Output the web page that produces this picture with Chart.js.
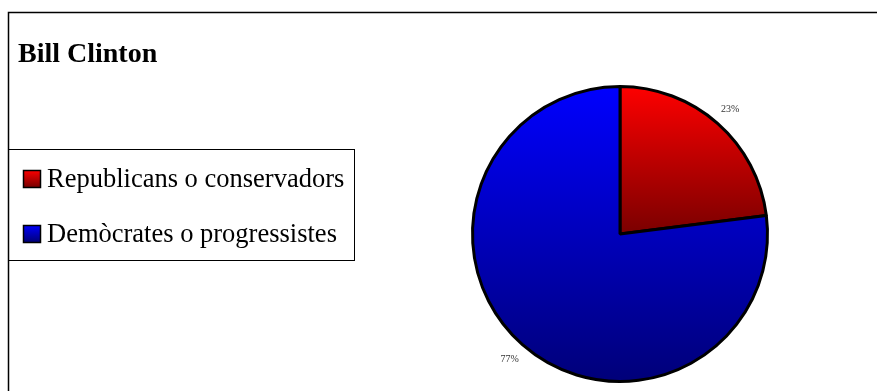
<!DOCTYPE html>
<html>
<head>
<meta charset="utf-8">
<script src="https://cdn.jsdelivr.net/npm/chart.js@4/dist/chart.umd.min.js"></script>
<style>
  html, body { margin: 0; padding: 0; background: #fff; }
  #chart { display: block; }
</style>
</head>
<body>
<canvas id="chart" width="877" height="391"></canvas>
<script>
const chartTitle = "Bill Clinton";
const categories = ["Republicans o conservadors", "Demòcrates o progressistes"];
const shares = [23, 77];

const topColors = ["#ff0000", "#0000ff"];
const bottomColors = ["#7a0000", "#000078"];
const SERIF = "'Liberation Serif', 'Times New Roman', serif";

// lowest / highest y reached by a slice, used to stretch its gradient
function sliceExtent(cy, r, start, end) {
  let ys = [cy, cy + r * Math.sin(start), cy + r * Math.sin(end)];
  for (let k = -2; k <= 2; k++) {
    const a = Math.PI / 2 + k * 2 * Math.PI;
    const b = -Math.PI / 2 + k * 2 * Math.PI;
    if (a > start && a < end) ys.push(cy + r);
    if (b > start && b < end) ys.push(cy - r);
  }
  return [Math.min(...ys), Math.max(...ys)];
}

function sliceFill(c) {
  const chart = c.chart;
  const area = chart.chartArea;
  const i = c.dataIndex;
  if (!area) return topColors[i];
  const cx = (area.left + area.right) / 2;
  const cy = (area.top + area.bottom) / 2;
  const r = Math.min(area.width, area.height) / 2;
  const total = shares.reduce((a, v) => a + v, 0);
  let start = -Math.PI / 2;
  for (let k = 0; k < i; k++) start += shares[k] / total * 2 * Math.PI;
  const end = start + shares[i] / total * 2 * Math.PI;
  const [y0, y1] = sliceExtent(cy, r, start, end);
  const g = chart.ctx.createLinearGradient(0, y0, 0, y1);
  g.addColorStop(0, topColors[i]);
  g.addColorStop(1, bottomColors[i]);
  return g;
}

const framePlugin = {
  id: "frame",
  beforeDraw(chart) {
    const ctx = chart.ctx;
    ctx.save();
    ctx.fillStyle = "#fff";
    ctx.fillRect(0, 0, chart.width, chart.height);
    ctx.strokeStyle = "#000";
    ctx.lineWidth = 1.5;
    ctx.strokeRect(8.5, 12.5, chart.width + 10, chart.height + 10);
    ctx.restore();
  },
  afterDraw(chart) {
    const ctx = chart.ctx;
    ctx.save();

    // title
    ctx.fillStyle = "#000";
    ctx.font = "bold 28px " + SERIF;
    ctx.textBaseline = "alphabetic";
    ctx.textAlign = "left";
    ctx.fillText(chartTitle, 18, 62);

    // legend box
    ctx.lineWidth = 1;
    ctx.strokeStyle = "#000";
    ctx.strokeRect(8.5, 149.5, 346, 111);

    ctx.font = "26.5px " + SERIF;
    categories.forEach((name, i) => {
      const top = 170 + i * 55;
      const g = ctx.createLinearGradient(0, top, 0, top + 17);
      g.addColorStop(0, topColors[i]);
      g.addColorStop(1, bottomColors[i]);
      ctx.fillStyle = g;
      ctx.fillRect(23.5, top + 0.5, 17, 17);
      ctx.lineWidth = 1.5;
      ctx.strokeRect(23.5, top + 0.5, 17, 17);
      ctx.fillStyle = "#000";
      ctx.fillText(name, 47, top + 17);
    });

    // percentage labels outside the slices
    const meta = chart.getDatasetMeta(0);
    const total = shares.reduce((a, v) => a + v, 0);
    ctx.font = "10px " + SERIF;
    ctx.fillStyle = "#333";
    ctx.textAlign = "center";
    ctx.textBaseline = "middle";
    meta.data.forEach((arc, i) => {
      const p = arc.getProps(["x", "y", "startAngle", "endAngle", "outerRadius"], true);
      const mid = (p.startAngle + p.endAngle) / 2;
      const rr = p.outerRadius * 1.13;
      const label = Math.round(shares[i] / total * 100) + "%";
      ctx.fillText(label, p.x + Math.cos(mid) * rr, p.y + Math.sin(mid) * rr);
    });

    ctx.restore();
  }
};

new Chart(document.getElementById("chart").getContext("2d"), {
  type: "pie",
  data: {
    labels: categories,
    datasets: [{
      data: shares,
      backgroundColor: sliceFill,
      borderColor: "#000",
      borderWidth: 3
    }]
  },
  options: {
    responsive: false,
    animation: false,
    layout: {
      padding: { left: 471, right: 108, top: 85, bottom: 8 }
    },
    plugins: {
      legend: { display: false },
      title: { display: false },
      tooltip: { enabled: false }
    }
  },
  plugins: [framePlugin]
});
</script>
</body>
</html>
